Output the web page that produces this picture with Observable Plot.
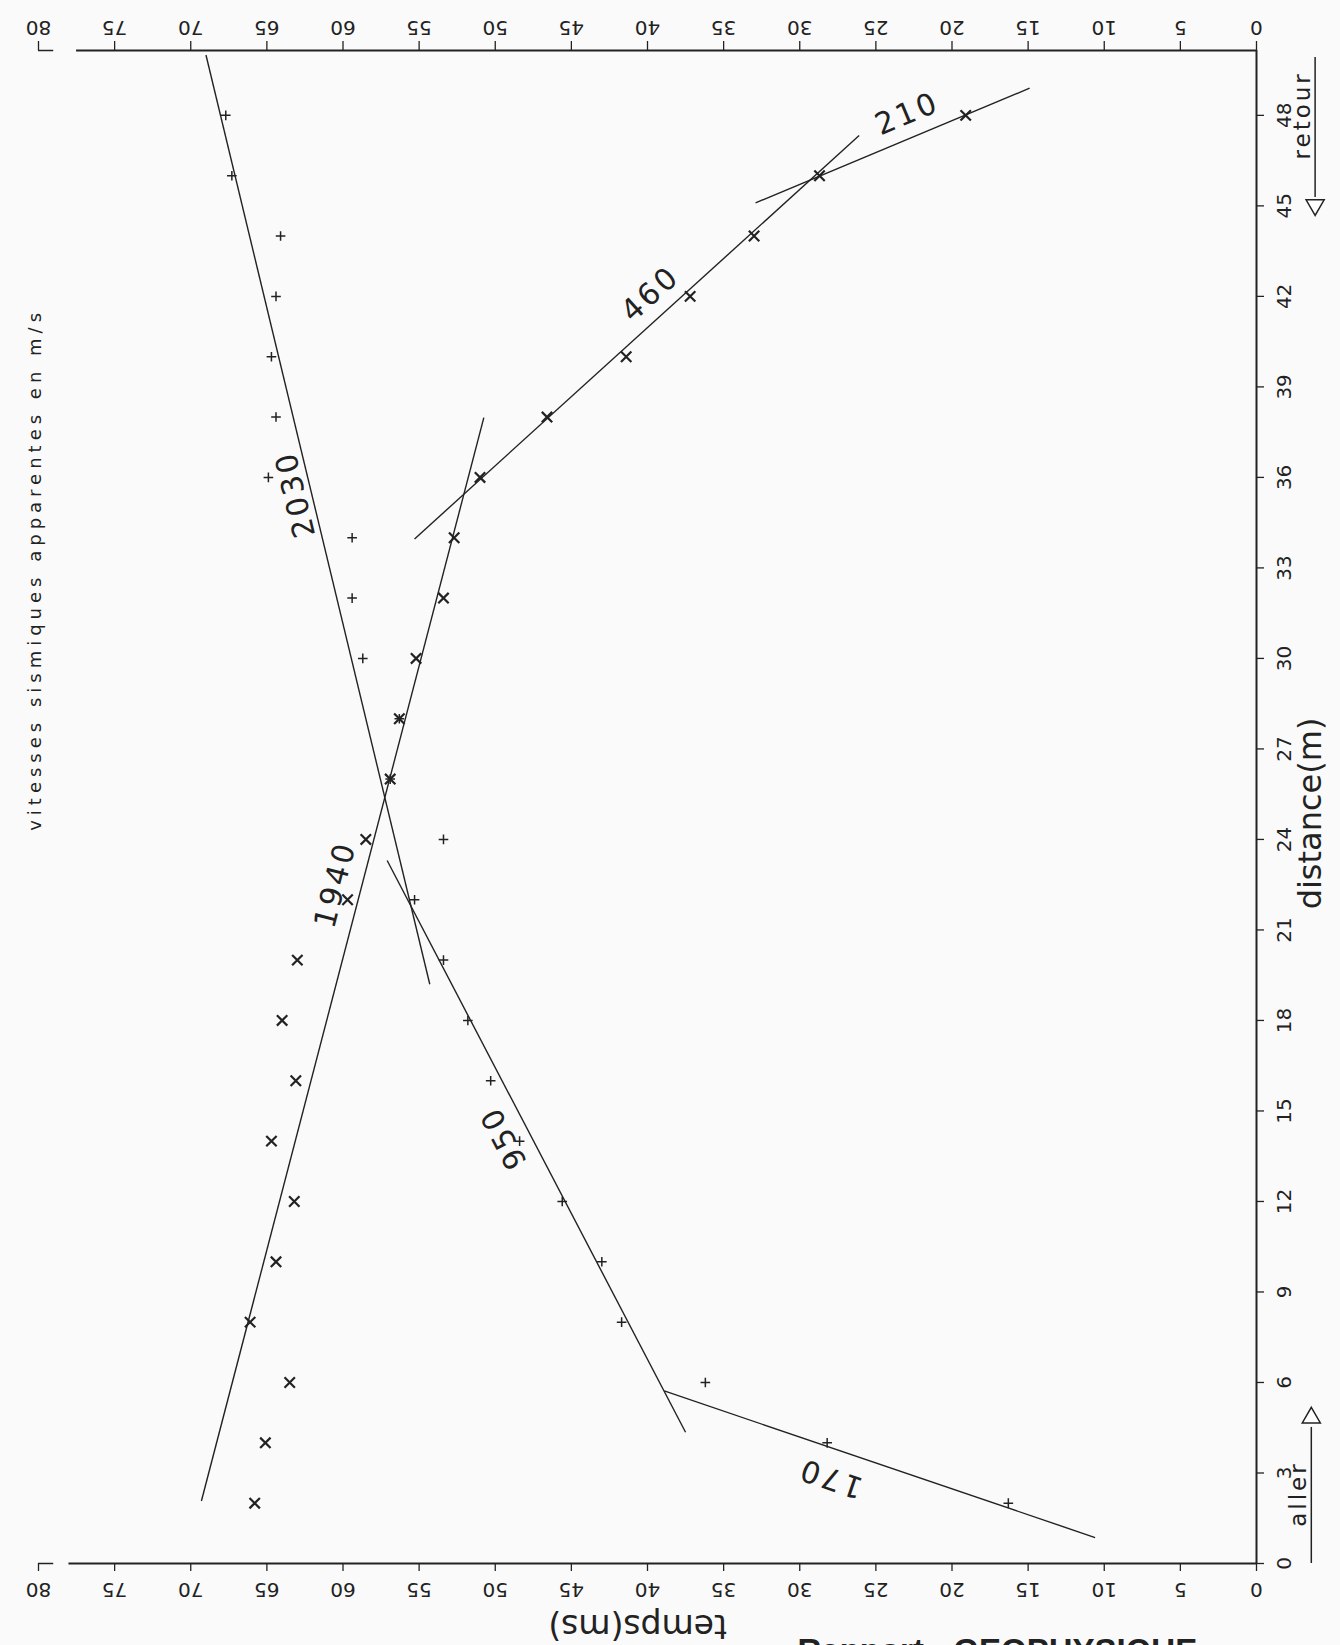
<!DOCTYPE html>
<html>
<head>
<meta charset="utf-8">
<script src="https://cdn.jsdelivr.net/npm/d3@7"></script>
<script src="https://cdn.jsdelivr.net/npm/@observablehq/plot@0.6"></script>
<style>
  html, body { margin: 0; padding: 0; background: #fafafa; }
  #chart { width: 1340px; height: 1645px; overflow: hidden; }
</style>
</head>
<body>
<div id="chart"></div>
<script>
// ---- data ----
const distances   = [2, 4, 6, 8, 10, 12, 14, 16, 18, 20, 22, 24, 26, 28, 30, 32, 34, 36, 38, 40, 42, 44, 46, 48];
const allerTimes  = [16.3, 28.2, 36.2, 41.7, 43.0, 45.6, 48.4, 50.3, 51.8, 53.4, 55.3, 53.4, 56.9, 56.3, 58.7, 59.4, 59.4, 64.9, 64.4, 64.7, 64.4, 64.1, 67.3, 67.7];
const retourTimes = [65.8, 65.1, 63.5, 66.1, 64.4, 63.2, 64.7, 63.1, 64.0, 63.0, 59.7, 58.5, 56.9, 56.3, 55.2, 53.4, 52.7, 51.0, 46.6, 41.4, 37.2, 33.0, 28.7, 19.1];

const timeTicks     = [0, 5, 10, 15, 20, 25, 30, 35, 40, 45, 50, 55, 60, 65, 70, 75, 80];
const distanceTicks = [0, 3, 6, 9, 12, 15, 18, 21, 24, 27, 30, 33, 36, 39, 42, 45, 48];
const distanceMax = 50.15;

// fitted segments (apparent velocities, m/s)
const velocities = ["170", "950", "1940", "2030", "460", "210"];
const segStartT  = [10.6, 37.5, 69.3, 54.3, 55.3, 32.9];
const segStartD  = [0.86, 4.35, 2.07, 19.2, 33.96, 45.1];
const segEndT    = [38.9, 57.1, 50.75, 69.0, 26.1, 14.9];
const segEndD    = [5.72, 23.3, 37.98, 50.0, 47.33, 48.9];
const labelT     = [27.98, 49.44, 60.49, 63.12, 39.8, 22.94];
const labelD     = [2.84, 14.12, 22.5, 35.44, 42.08, 48.05];

const titleText = "vitesses sismiques apparentes en m/s";

// ---- scales ----
const xDomain = [0, 80], xRange = [1256, 38];
const yDomain = [0, distanceMax], yRange = [1563, 50];
const xs = Plot.scale({x: {domain: xDomain, range: xRange}});
const ys = Plot.scale({y: {domain: yDomain, range: yRange}});
const segIdx = velocities.map((_, i) => i);
const segAngle = i => Math.atan2(ys.apply(segEndD[i]) - ys.apply(segStartD[i]),
                                 xs.apply(segEndT[i]) - xs.apply(segStartT[i])) * 180 / Math.PI;

const ink = "#222";
const font = "DejaVu Sans";

const chart = Plot.plot({
  width: 1340,
  height: 1645,
  margin: 0,
  x: {domain: xDomain, range: xRange, axis: null},
  y: {domain: yDomain, range: yRange, axis: null},
  style: {background: "transparent", fontFamily: font, color: ink},
  marks: [
    // frame lines
    Plot.ruleY([distanceMax], {x1: 77.5, x2: 0, stroke: ink, strokeWidth: 2}),
    Plot.ruleY([distanceMax], {x1: 80, x2: 79, stroke: ink, strokeWidth: 1.5}),
    Plot.ruleY([0], {x1: 78, x2: 0, stroke: ink, strokeWidth: 2}),
    Plot.ruleY([0], {x1: 80, x2: 79, stroke: ink, strokeWidth: 1.5}),
    Plot.ruleX([0], {y1: 0, y2: distanceMax, stroke: ink, strokeWidth: 2}),
    // ticks
    Plot.ruleX(timeTicks, {x: d => d, y1: distanceMax, y2: distanceMax, insetTop: -9, stroke: ink, strokeWidth: 1.3}),
    Plot.ruleX(timeTicks, {x: d => d, y1: 0, y2: 0, insetBottom: -8, stroke: ink, strokeWidth: 1.3}),
    Plot.ruleY(distanceTicks, {y: d => d, x1: 0, x2: 0, insetRight: -8, stroke: ink, strokeWidth: 1.3}),
    // tick labels
    Plot.text(timeTicks, {x: d => d, y: distanceMax, dy: -23, text: d => String(d), rotate: 180,
      fontSize: 20, fill: ink, textAnchor: "middle", lineAnchor: "middle"}),
    Plot.text(timeTicks, {x: d => d, y: 0, dy: 26, text: d => String(d), rotate: 180,
      fontSize: 20, fill: ink, textAnchor: "middle", lineAnchor: "middle"}),
    Plot.text(distanceTicks, {x: 0, y: d => d, dx: 28, text: d => String(d), rotate: -90,
      fontSize: 20, fill: ink, textAnchor: "middle", lineAnchor: "middle"}),
    // axis titles
    Plot.text(["distance(m)"], {x: -3.55, y: 24.86, text: d => d, rotate: -90, fontSize: 32,
      fill: ink, textAnchor: "middle", lineAnchor: "middle"}),
    Plot.text(["temps(ms)"], {x: 40.65, y: -2.07, text: d => d, rotate: 180, fontSize: 33,
      fill: ink, textAnchor: "middle", lineAnchor: "middle"}),
    Plot.text([titleText], {x: 80.2, y: 32.95, text: d => d, rotate: -90,
      fontSize: 18, fill: ink, textAnchor: "middle", lineAnchor: "middle"}),
    Plot.text(["Rapport : GEOPHYSIQUE"], {x: 30.15, y: -2.5, text: d => d, fontSize: 33, fontWeight: "bold",
      fontFamily: "Liberation Sans", fill: ink, textAnchor: "start", lineAnchor: "top"}),
    // direction arrows
    Plot.ruleX([-3.85], {y1: 45.28, y2: 49.92, stroke: ink, strokeWidth: 1.5}),
    Plot.dot([0], {x: -3.85, y: 45.03, symbol: "triangle", rotate: 180, r: 6.7, fill: "white", stroke: ink, strokeWidth: 1.5}),
    Plot.ruleX([-3.6], {y1: 0, y2: 4.51, stroke: ink, strokeWidth: 1.5}),
    Plot.dot([0], {x: -3.6, y: 4.83, symbol: "triangle", r: 6.7, fill: "white", stroke: ink, strokeWidth: 1.5}),
    Plot.text(["retour"], {x: -3.02, y: 48.0, text: d => d, rotate: -90, fontSize: 23, fill: ink,
      textAnchor: "middle", lineAnchor: "middle"}),
    Plot.text(["aller"], {x: -2.76, y: 2.3, text: d => d, rotate: -90, fontSize: 23, fill: ink,
      textAnchor: "middle", lineAnchor: "middle"}),
    // fitted segments
    Plot.link(segIdx, {x1: i => segStartT[i], y1: i => segStartD[i], x2: i => segEndT[i], y2: i => segEndD[i],
      stroke: ink, strokeWidth: 1.4}),
    Plot.text(segIdx, {x: i => labelT[i], y: i => labelD[i], text: i => velocities[i], rotate: segAngle,
      fontSize: 30, fill: ink, textAnchor: "middle", lineAnchor: "middle"}),
    // first arrivals
    Plot.dot(distances, {x: (d, i) => allerTimes[i], y: d => d, symbol: "plus", r: 3.2, stroke: ink, strokeWidth: 1.5}),
    Plot.dot(distances, {x: (d, i) => retourTimes[i], y: d => d, symbol: "times", r: 4.8, stroke: ink, strokeWidth: 2.2})
  ]
});

// letter spacing, as in the plotter lettering
const spacing = new Map([[titleText, 5], ["retour", 3], ["aller", 3]]);
velocities.forEach(v => spacing.set(v, 3));
d3.select(chart).selectAll("text").each(function() {
  const s = spacing.get(this.textContent);
  if (s) this.setAttribute("letter-spacing", s + "px");
});
document.getElementById("chart").appendChild(chart);
</script>
</body>
</html>
